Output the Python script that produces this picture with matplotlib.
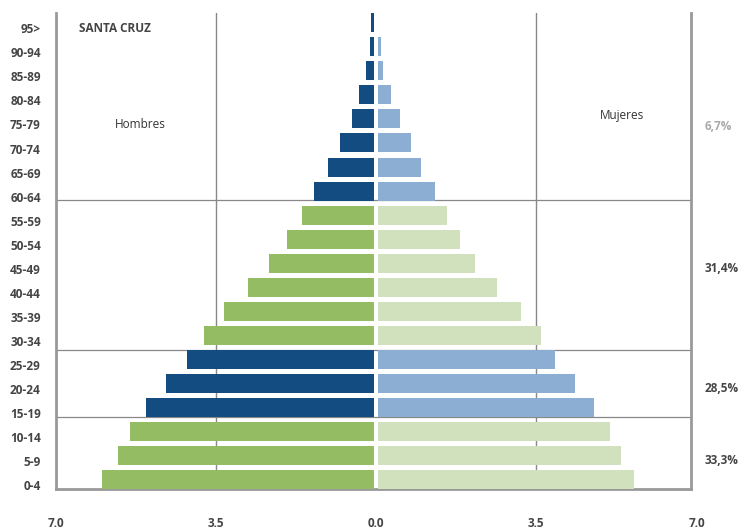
import matplotlib
matplotlib.use("Agg")
import matplotlib.pyplot as plt
import matplotlib.transforms as mtransforms
import numpy as np

# Datos de la pirámide (porcentaje de población)
grupos = ["0-4", "5-9", "10-14", "15-19", "20-24", "25-29", "30-34", "35-39",
          "40-44", "45-49", "50-54", "55-59", "60-64", "65-69", "70-74",
          "75-79", "80-84", "85-89", "90-94", "95>"]
hombres = [5.96, 5.61, 5.34, 4.99, 4.56, 4.1, 3.72, 3.29, 2.76, 2.3, 1.91,
           1.58, 1.32, 1.01, 0.75, 0.48, 0.32, 0.17, 0.09, 0.06]
mujeres = [5.62, 5.33, 5.08, 4.74, 4.32, 3.88, 3.57, 3.14, 2.62, 2.13, 1.81,
           1.52, 1.25, 0.95, 0.73, 0.49, 0.29, 0.12, 0.08, 0.0]
tramo = [0, 0, 0, 1, 1, 1, 0, 0, 0, 0, 0, 0, 1, 1, 1, 1, 1, 1, 1, 1]  # 1 = azul, 0 = verde
cortes = [2.61, 5.39, 11.62]
porcentajes = ["33,3%", "28,5%", "31,4%", "6,7%"]
pos_porcentajes = [0.8, 3.8, 8.8, 14.7]

col_h = {1: "#124c81", 0: "#93bc63"}
col_m = {1: "#8caed3", 0: "#d1e1be"}
gris = "#999999"
texto = "#444444"

plt.rcParams['font.family'] = ['Open Sans', 'DejaVu Sans']

fig = plt.figure(figsize=(7.4, 5.3), dpi=100)
ax = fig.add_axes([56 / 740, 41 / 530, 635 / 740, 476 / 530])

y = np.arange(len(grupos))
hueco = 0.04
ax.barh(y, [-v for v in hombres], left=-hueco, height=0.79,
        color=[col_h[t] for t in tramo], zorder=3)
ax.barh(y, mujeres, left=hueco, height=0.79,
        color=[col_m[t] for t in tramo], zorder=3)

# Líneas de referencia
for xv in (-3.5, 3.5):
    ax.axvline(xv, color="#888888", lw=1, zorder=1)
for c in cortes:
    ax.axhline(c, color="#888888", lw=0.9, zorder=1)

ax.set_xlim(-7, 6.9)
ax.set_ylim(-0.38, 19.4)

ax.set_yticks(y)
ax.set_yticklabels(grupos, fontsize=8.5, fontweight="bold", color=texto)
ax.set_xticks([-7, -3.5, 0, 3.5, 6.9])
ax.set_xticklabels(["7.0", "3.5", "0.0", "3.5", "7.0"], fontsize=8.5,
                   fontweight="bold", color=texto)
ax.tick_params(axis="y", length=0, pad=11)
ax.tick_params(axis="x", length=0, pad=20)

# etiquetas de edad un poco por debajo del centro de la barra
bajar = mtransforms.ScaledTranslation(0, -4 / 72, fig.dpi_scale_trans)
for lab in ax.get_yticklabels():
    lab.set_transform(lab.get_transform() + bajar)
derecha = mtransforms.ScaledTranslation(4 / 72, 0, fig.dpi_scale_trans)
ult = ax.get_xticklabels()[-1]
ult.set_transform(ult.get_transform() + derecha)

for s in ("left", "bottom", "right"):
    ax.spines[s].set_color(gris)
    ax.spines[s].set_linewidth(2)
ax.spines["top"].set_visible(False)

ax.text(-5.71, 18.75, "SANTA CRUZ", ha="center", va="center", fontsize=8.5,
        fontweight="bold", color=texto)
ax.text(-5.16, 14.77, "Hombres", ha="center", va="center", fontsize=8.5,
        fontweight="medium", color="#333333")
ax.text(5.38, 15.15, "Mujeres", ha="center", va="center", fontsize=8.5,
        fontweight="medium", color="#333333")

# Porcentajes por tramo (a la derecha)
for txt, pos in zip(porcentajes, pos_porcentajes):
    ax.text(1.022, pos, txt, transform=ax.get_yaxis_transform(),
            ha="left", va="center", fontsize=8.5, fontweight="bold",
            color="#aaaaaa" if txt == "6,7%" else texto)

fig.savefig("out.png", dpi=100)
